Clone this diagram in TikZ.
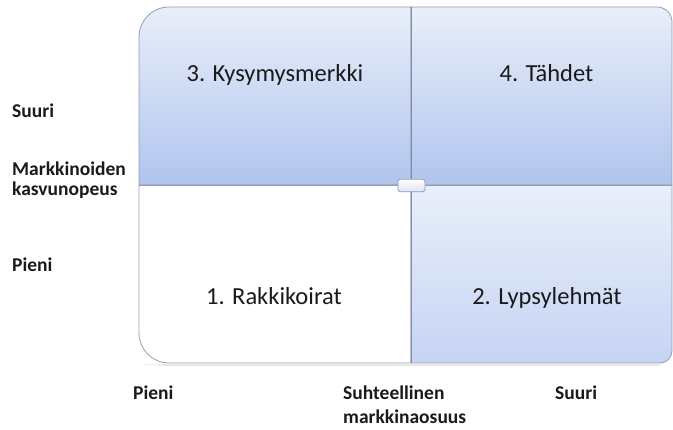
\documentclass[tikz,border=0pt]{standalone}
\usepackage{fontspec}
\setmainfont{Carlito}
\definecolor{qtop}{HTML}{E9EFFA}
\definecolor{qbot}{HTML}{B0C4EE}
\definecolor{qbottwo}{HTML}{C6D4F4}
\definecolor{edgec}{HTML}{919DB2}
\definecolor{divc}{HTML}{7F8CA3}
\definecolor{txt}{HTML}{1A1A1A}
\definecolor{knobbot}{HTML}{DCE3F2}
\tikzset{
  quad/.style={draw=edgec, line width=0.8pt},
  bigtext/.style={font=\fontsize{24.5}{28}\selectfont, text=txt, inner sep=0pt},
  axislabel/.style={font=\bfseries\fontsize{19.5}{20}\selectfont, text=txt, inner sep=0pt, align=left},
  knob/.style={draw=edgec, line width=0.8pt, rounded corners=2.5pt, minimum width=27pt, minimum height=12.5pt, inner sep=0pt, top color=white, bottom color=knobbot}
}
\begin{document}
\begin{tikzpicture}[x=1pt,y=-1pt]
\useasboundingbox (0,0) rectangle (673,430);
% shadows
\fill[black!18] (141,188) -- (411,188) -- (411,187) -- (141,187) -- cycle;
\fill[black!10] (141,364.5) -- (660,364.5) -- (660,366) -- (169,366) -- cycle;
% quadrant 3 (top-left)
\path[quad, top color=qtop, bottom color=qbot]
  (139,185) -- (139,37) arc[start angle=180, end angle=270, radius=30] -- (411,7) -- (411,185) -- cycle;
% quadrant 4 (top-right)
\path[quad, top color=qtop, bottom color=qbot]
  (411,185) -- (411,7) -- (657,7) arc[start angle=270, end angle=360, radius=15] -- (672,185) -- cycle;
% quadrant 1 (bottom-left)
\path[quad, fill=white]
  (139,185) -- (411,185) -- (411,363) -- (169,363) arc[start angle=90, end angle=180, radius=30] -- cycle;
% quadrant 2 (bottom-right)
\path[quad, top color=qtop, bottom color=qbottwo]
  (411,185) -- (672,185) -- (672,351) arc[start angle=0, end angle=90, radius=12] -- (411,363) -- cycle;
% dividers
\coordinate (vt) at (411,7);
\coordinate (vb) at (411,363);
\coordinate (hl) at (139,185.5);
\coordinate (hr) at (672,185.5);
\draw[divc, line width=0.9pt] (vt) -- (vb);
\draw[edgec, line width=0.9pt] (hl) -- (hr);
\node[knob] (k) at (411.5,185.5) {};
% quadrant labels
\node[bigtext, anchor=base] (q3) at (275,82) {3. Kysymysmerkki};
\node[bigtext, anchor=base] (q4) at (546.5,82) {4. Tähdet};
\node[bigtext, anchor=base] (q1) at (274,305) {1. Rakkikoirat};
\node[bigtext, anchor=base] (q2) at (547,305) {2. Lypsylehmät};
% axis labels
\node[axislabel, anchor=base west] (ys) at (12,118) {Suuri};
\node[axislabel, anchor=base west] (ym1) at (12,176) {Markkinoiden};
\node[axislabel, anchor=base west] (ym2) at (12,196) {kasvunopeus};
\node[axislabel, anchor=base west] (yp) at (12,272) {Pieni};
\node[axislabel, anchor=base west] (xp) at (133,400) {Pieni};
\node[axislabel, anchor=base west] (xm1) at (343,400) {Suhteellinen};
\node[axislabel, anchor=base west] (xm2) at (343,424) {markkinaosuus};
\node[axislabel, anchor=base west] (xs) at (555,400) {Suuri};
\end{tikzpicture}
\end{document}
